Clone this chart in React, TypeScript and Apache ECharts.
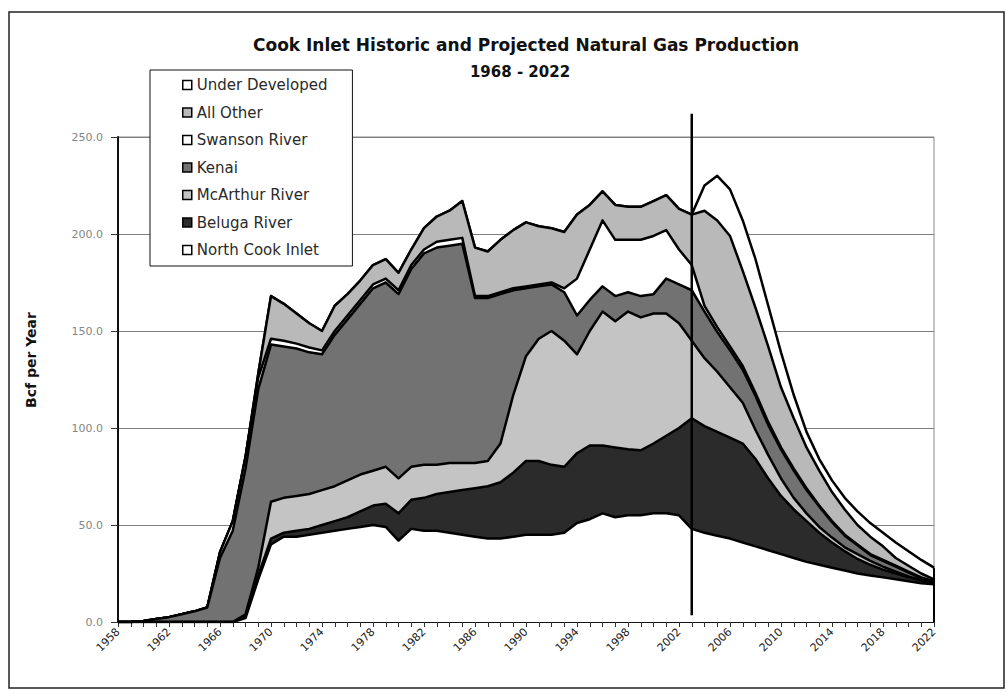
import { useEffect, useRef } from "react";
import * as echarts from "echarts";

// Categories: production years
const years: string[] = [];
for (let y = 1958; y <= 2022; y++) years.push(String(y));

// Series values (Bcf per year), 1958..2022
const northCookInlet = [
  0, 0, 0, 0, 0, 0, 0, 0, 0, 0,
  2, 22, 40, 44, 44, 45, 46, 47, 48, 49,
  50, 49, 42, 48, 47, 47, 46, 45, 44, 43,
  43, 44, 45, 45, 45, 46, 51, 53, 56, 54,
  55, 55, 56, 56, 55, 48, 46, 44.5, 43, 41,
  39, 37, 35, 33, 31, 29.5, 28, 26.5, 25, 24,
  23, 22, 21, 20, 19.5,
];
const belugaRiver = [
  0, 0, 0, 0, 0, 0, 0, 0, 0, 0,
  1, 2, 3, 2, 3, 3, 4, 5, 6, 8,
  10, 12, 14, 15, 17, 19, 21, 23, 25, 27,
  29, 33, 38, 38, 36, 34, 36, 38, 35, 36,
  34, 33.5, 36, 40, 45, 57, 55, 53.5, 52, 51,
  45, 37, 30, 25, 21, 16.5, 13, 10, 7.5, 5.5,
  4, 3, 2, 1.5, 0.5,
];
const mcArthurRiver = [
  0, 0, 0, 0, 0, 0, 0, 0, 0, 0,
  1, 4, 19, 18, 18, 18, 18, 18, 19, 19,
  18, 19, 18, 17, 17, 15, 15, 14, 13, 13,
  20, 40, 54, 63, 69, 65, 51, 59, 69, 65,
  71, 68.5, 67, 63, 54, 40, 35, 31, 26, 21,
  15, 12, 9, 6, 4, 3, 2.5, 2, 2.5, 2,
  1.5, 1, 0.5, 0, 0.3,
];
const kenai = [
  0, 0, 0.5, 1.5, 2.5, 4, 5.5, 7.5, 33, 47,
  75, 92, 81, 78, 76, 73, 70, 78, 83, 88,
  94, 95, 95, 102, 109, 112, 112, 113, 85, 84,
  77, 54, 35, 27, 24, 25, 20, 16, 13, 13,
  10, 11, 10, 18, 20, 26, 24, 20.5, 19, 17,
  17.5, 15.5, 15, 14, 12, 10.5, 8, 6, 4.5, 3,
  3, 2.5, 2, 1, 0.4,
];
const swansonRiver = [
  0, 0, 0, 0, 0, 0, 0, 0, 3, 5,
  6, 6, 3, 3, 2.5, 2.5, 2, 2, 2, 2,
  2, 2, 2, 2, 2, 3, 3, 3, 1, 1,
  1, 1, 1, 1, 1, 2, 19, 26, 34, 29,
  27, 29, 30, 25, 18, 13, 3, 2.5, 2, 2,
  1.5, 1.5, 1, 1, 1, 0.5, 0.5, 0.5, 0.5, 0.5,
  0.5, 0.5, 0.5, 0.5, 0.3,
];
const allOther = [
  0, 0, 0, 0, 0, 0, 0, 0, 0, 0,
  0, 2, 22, 19, 15.5, 12.5, 10, 13, 11, 10,
  10, 10, 9, 8, 11, 13, 15, 19, 25, 23,
  27, 30, 33, 30, 28, 29, 33, 23, 15, 18,
  17, 17, 18, 18, 21, 26, 49, 55, 57, 49,
  44, 39, 31, 26, 21, 18, 15, 13, 10, 9,
  7, 4, 3, 2, 1,
];
const underDeveloped = [
  0, 0, 0, 0, 0, 0, 0, 0, 0, 0,
  0, 0, 0, 0, 0, 0, 0, 0, 0, 0,
  0, 0, 0, 0, 0, 0, 0, 0, 0, 0,
  0, 0, 0, 0, 0, 0, 0, 0, 0, 0,
  0, 0, 0, 0, 0, 0, 13, 23, 24, 26,
  25, 21, 18, 12, 8, 6, 6, 6, 7, 7,
  7, 8, 7.5, 7, 6,
];

const yTicks = [0, 50, 100, 150, 200, 250];
const historicEndYear = "2003";

const layers = [
  { name: "North Cook Inlet", data: northCookInlet, color: "#ffffff" },
  { name: "Beluga River", data: belugaRiver, color: "#2b2b2b" },
  { name: "McArthur River", data: mcArthurRiver, color: "#c4c4c4" },
  { name: "Kenai", data: kenai, color: "#727272" },
  { name: "Swanson River", data: swansonRiver, color: "#ffffff" },
  { name: "All Other", data: allOther, color: "#b9b9b9" },
  { name: "Under Developed", data: underDeveloped, color: "#ffffff" },
];

export default function App() {
  const ref = useRef<HTMLDivElement>(null);

  useEffect(() => {
    if (!ref.current) return;
    const chart = echarts.init(ref.current, undefined, { renderer: "svg" });
    const font = "DejaVu Sans";

    const option: any = {
      animation: false,
      backgroundColor: "#ffffff",
      grid: {
        left: 118,
        right: 73,
        top: 137,
        bottom: 71,
        show: true,
        borderColor: "#8a8a8a",
        borderWidth: 1,
        backgroundColor: "transparent",
      },
      legend: {
        orient: "vertical",
        left: 150,
        top: 70,
        data: layers
          .slice()
          .reverse()
          .map((l) => ({
            name: l.name,
            itemStyle: { color: l.color, borderColor: "#000", borderWidth: 1.5 },
          })),
        icon: "rect",
        itemWidth: 9,
        itemHeight: 9,
        itemGap: 11.5,
        backgroundColor: "#ffffff",
        borderColor: "#111",
        borderWidth: 1,
        padding: [7, 25, 8, 32],
        textStyle: { fontFamily: font, fontSize: 15, color: "#2a2a2a", lineHeight: 16 },
        selectedMode: false,
        z: 30,
      },
      xAxis: {
        type: "category",
        data: years,
        boundaryGap: false,
        axisLine: { show: true, lineStyle: { color: "#111", width: 2 } },
        axisTick: { show: true, interval: 0, length: 5, lineStyle: { color: "#333" } },
        axisLabel: {
          interval: 3,
          rotate: 45,
          fontFamily: font,
          fontSize: 11,
          color: "#222",
          margin: 8,
        },
        splitLine: { show: false },
      },
      yAxis: {
        type: "value",
        min: yTicks[0],
        max: yTicks[yTicks.length - 1],
        interval: 50,
        axisLine: { show: true, lineStyle: { color: "#111", width: 2 } },
        axisTick: { show: true, length: 7, lineStyle: { color: "#333" } },
        axisLabel: {
          fontFamily: font,
          fontSize: 11,
          color: "#858585",
          margin: 15,
          formatter: (v: number) => v.toFixed(1),
        },
        splitLine: { show: true, lineStyle: { color: "#7f7f7f", width: 1 } },
      },
      series: layers.map((l, i) => ({
        name: l.name,
        type: "line",
        stack: "total",
        data: l.data,
        symbol: "none",
        showSymbol: false,
        lineStyle: { color: "#000", width: 2.5, join: "round" },
        areaStyle: { color: l.color, opacity: 1 },
        itemStyle: { color: l.color, borderColor: "#000" },
        emphasis: { disabled: true },
        silent: true,
        z: 10 - i,
      })),
    };
    chart.setOption(option);

    const idx = years.indexOf(historicEndYear);
    const top = chart.convertToPixel({ gridIndex: 0 }, [idx, 262]) as number[];
    const bot = chart.convertToPixel({ gridIndex: 0 }, [idx, 3.5]) as number[];
    const last = years.length - 1;
    const lastTotal = layers.reduce((s, l) => s + l.data[last], 0);
    const rTop = chart.convertToPixel({ gridIndex: 0 }, [last, lastTotal]) as number[];
    const rBot = chart.convertToPixel({ gridIndex: 0 }, [last, 0]) as number[];

    chart.setOption({
      graphic: [
        {
          type: "rect",
          shape: { x: 9, y: 12, width: 995, height: 676 },
          style: { fill: "none", stroke: "#222", lineWidth: 1.5 },
          z: 0,
          silent: true,
        },
        {
          type: "text",
          x: 526,
          y: 45,
          style: {
            text: "Cook Inlet Historic and Projected Natural Gas Production",
            align: "center",
            verticalAlign: "middle",
            fontFamily: font,
            fontWeight: "bold",
            fontSize: 17,
            fill: "#111",
          },
          z: 50,
        },
        {
          type: "text",
          x: 520,
          y: 72,
          style: {
            text: "1968 - 2022",
            align: "center",
            verticalAlign: "middle",
            fontFamily: font,
            fontWeight: "bold",
            fontSize: 15,
            fill: "#111",
          },
          z: 50,
        },
        {
          type: "text",
          x: 31,
          y: 360,
          rotation: Math.PI / 2,
          style: {
            text: "Bcf per Year",
            align: "center",
            verticalAlign: "middle",
            fontFamily: font,
            fontWeight: "bold",
            fontSize: 14,
            fill: "#111",
          },
          z: 50,
        },
        {
          type: "line",
          shape: { x1: top[0], y1: top[1], x2: bot[0], y2: bot[1] },
          style: { stroke: "#000", lineWidth: 2.5 },
          z: 60,
          silent: true,
        },
        {
          type: "line",
          shape: { x1: rTop[0], y1: rTop[1], x2: rBot[0], y2: rBot[1] },
          style: { stroke: "#000", lineWidth: 2 },
          z: 60,
          silent: true,
        },
      ],
    });

    return () => chart.dispose();
  }, []);

  return (
    <div
      ref={ref}
      style={{ position: "fixed", left: 0, top: 0, width: 1007, height: 693 }}
    />
  );
}
